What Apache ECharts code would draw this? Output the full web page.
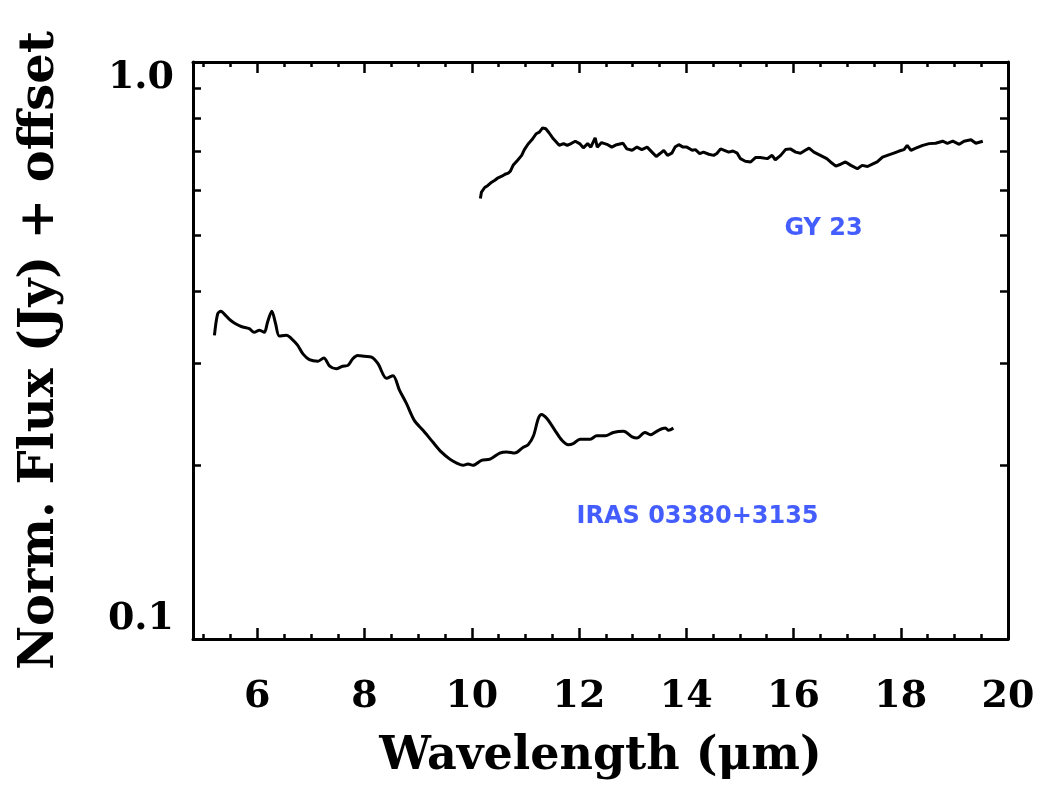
<!DOCTYPE html>
<html><head><meta charset="utf-8">
<script src="https://cdn.jsdelivr.net/npm/echarts@6/dist/echarts.min.js"></script>
<style>html,body{margin:0;padding:0;background:#fff}#chart{width:1045px;height:786px}</style>
</head><body><div id="chart"></div>
<script>
// ---- data (wavelength in micron, normalized flux + offset in Jy) ----
const irasSpectrum = [
 [5.20,0.336],[5.26,0.366],[5.32,0.370],[5.38,0.366],[5.48,0.358],[5.57,0.353],[5.70,0.348],[5.85,0.345],[5.94,0.340],[6.04,0.343],
 [6.13,0.340],[6.19,0.354],[6.27,0.370],[6.34,0.352],[6.41,0.335],[6.54,0.336],[6.63,0.332],[6.75,0.323],[6.85,0.312],[6.97,0.305],
 [7.13,0.303],[7.24,0.307],[7.35,0.297],[7.47,0.294],[7.59,0.297],[7.69,0.298],[7.78,0.306],[7.87,0.310],[8.00,0.309],[8.13,0.308],
 [8.25,0.300],[8.41,0.283],[8.53,0.286],[8.65,0.270],[8.78,0.256],[8.93,0.239],[9.09,0.230],[9.28,0.219],[9.43,0.211],[9.59,0.205],
 [9.71,0.202],[9.84,0.200],[9.93,0.201],[10.02,0.200],[10.18,0.204],[10.34,0.205],[10.52,0.210],[10.65,0.211],[10.80,0.210],[10.96,0.215],
 [11.05,0.217],[11.15,0.225],[11.24,0.241],[11.30,0.245],[11.40,0.241],[11.55,0.230],[11.68,0.221],[11.80,0.217],[11.89,0.218],[12.02,0.222],
 [12.14,0.222],[12.21,0.222],[12.33,0.225],[12.49,0.225],[12.64,0.228],[12.83,0.229],[12.99,0.224],[13.08,0.223],[13.23,0.228],[13.33,0.226],
 [13.48,0.230],[13.61,0.232],[13.67,0.230],[13.76,0.232]
];
const gySpectrum = [
 [10.16,0.580],[10.18,0.595],[10.24,0.606],[10.30,0.611],[10.37,0.619],[10.43,0.624],[10.49,0.630],[10.56,0.634],[10.62,0.639],[10.68,0.642],
 [10.72,0.647],[10.77,0.662],[10.85,0.675],[10.93,0.689],[10.98,0.705],[11.05,0.721],[11.12,0.733],[11.20,0.751],[11.26,0.756],[11.32,0.769],
 [11.38,0.766],[11.44,0.754],[11.52,0.736],[11.58,0.726],[11.63,0.717],[11.71,0.722],[11.78,0.717],[11.86,0.723],[11.93,0.729],[12.01,0.722],
 [12.08,0.710],[12.16,0.722],[12.22,0.712],[12.30,0.739],[12.34,0.712],[12.42,0.725],[12.52,0.720],[12.61,0.712],[12.70,0.719],[12.82,0.723],
 [12.89,0.707],[12.99,0.703],[13.08,0.712],[13.17,0.705],[13.27,0.712],[13.36,0.698],[13.44,0.686],[13.51,0.694],[13.58,0.703],[13.65,0.689],
 [13.73,0.695],[13.79,0.712],[13.86,0.719],[13.94,0.712],[14.01,0.712],[14.11,0.703],[14.17,0.705],[14.25,0.694],[14.32,0.698],[14.42,0.692],
 [14.51,0.689],[14.57,0.694],[14.64,0.707],[14.71,0.703],[14.79,0.698],[14.87,0.701],[14.95,0.695],[15.01,0.680],[15.10,0.673],[15.20,0.671],
 [15.29,0.683],[15.38,0.683],[15.51,0.680],[15.60,0.689],[15.66,0.677],[15.76,0.689],[15.85,0.705],[15.94,0.707],[16.04,0.698],[16.13,0.695],
 [16.22,0.703],[16.29,0.709],[16.38,0.698],[16.50,0.689],[16.62,0.680],[16.69,0.671],[16.79,0.660],[16.88,0.665],[16.97,0.671],[17.07,0.662],
 [17.19,0.653],[17.28,0.662],[17.38,0.659],[17.47,0.665],[17.56,0.671],[17.66,0.684],[17.75,0.689],[17.87,0.695],[17.97,0.701],[18.06,0.705],
 [18.12,0.717],[18.19,0.703],[18.28,0.709],[18.41,0.717],[18.53,0.722],[18.65,0.723],[18.78,0.729],[18.87,0.723],[18.97,0.729],[19.09,0.720],
 [19.18,0.729],[19.31,0.733],[19.40,0.723],[19.53,0.729]
];
const xMajorTicks = [6, 8, 10, 12, 14, 16, 18, 20];
const xMinorTicks = [5, 5.5, 6.5, 7, 7.5, 8.5, 9, 9.5, 10.5, 11, 11.5, 12.5, 13, 13.5, 14.5, 15, 15.5, 16.5, 17, 17.5, 18.5, 19, 19.5];
const yLabelValues = [0.1, 1.0];
const yMinorTicks = [0.2, 0.3, 0.4, 0.5, 0.6, 0.7, 0.8, 0.9];
const sourceNames = ['GY 23', 'IRAS 03380+3135'];
const sourceLabelWave = [16.56, 14.21];
const sourceLabelFlux = [0.515, 0.163];

const X_MIN = 4.8, X_MAX = 20, Y_MIN = 0.1, Y_MAX = 1.0;
const SERIF = "'DejaVu Serif', 'Liberation Serif', serif";
const BLACK = '#000';

function xAxisDef(position, ticks, tickLen, showLine, showLabels) {
  return {
    type: 'value', position: position, min: X_MIN, max: X_MAX,
    axisLine: { show: showLine, onZero: false, lineStyle: { color: BLACK, width: 3 } },
    axisTick: { show: true, inside: true, length: tickLen, customValues: ticks, lineStyle: { color: BLACK, width: 2.5 } },
    axisLabel: { show: showLabels, customValues: ticks, margin: 39, fontFamily: SERIF, fontSize: 38, fontWeight: 'bold', color: BLACK },
    splitLine: { show: false }
  };
}
function yAxisDef(position, showLine, showLabels) {
  return {
    type: 'log', logBase: 10, position: position, min: Y_MIN, max: Y_MAX,
    axisLine: { show: showLine, onZero: false, lineStyle: { color: BLACK, width: 3 } },
    axisTick: { show: true, inside: true, length: 8, customValues: yMinorTicks, lineStyle: { color: BLACK, width: 2.5 } },
    axisLabel: {
      show: showLabels, customValues: yLabelValues, margin: 19,
      fontFamily: SERIF, fontSize: 38, fontWeight: 'bold', color: BLACK,
      formatter: function (v) {
        const val = v <= 0 ? Math.pow(10, v) : v;
        const s = val.toFixed(1);
        return val > 0.5 ? '{hi|' + s + '}' : '{lo|' + s + '}';
      },
      rich: {
        hi: { fontFamily: SERIF, fontSize: 38, fontWeight: 'bold', color: BLACK, padding: [32, 0, 0, 0] },
        lo: { fontFamily: SERIF, fontSize: 38, fontWeight: 'bold', color: BLACK, padding: [0, 0, 40, 0] }
      }
    },
    splitLine: { show: false }
  };
}

const xMain = xAxisDef('bottom', xMajorTicks, 11, true, true);
xMain.name = 'Wavelength (μm)';
xMain.nameLocation = 'middle';
xMain.nameGap = 95;
xMain.nameTextStyle = { fontFamily: SERIF, fontSize: 46, fontWeight: 'bold', color: BLACK };

const yMain = yAxisDef('left', true, true);
yMain.name = 'Norm. Flux (Jy) + offset';
yMain.nameLocation = 'middle';
yMain.nameGap = 128;
yMain.nameRotate = 90;
yMain.nameTextStyle = { fontFamily: SERIF, fontSize: 48, fontWeight: 'bold', color: BLACK };

const labelData = sourceNames.map((n, i) => [sourceLabelWave[i], sourceLabelFlux[i], n]);

const option = {
  animation: false,
  backgroundColor: '#fff',
  grid: { left: 193, right: 37, top: 62, bottom: 147, outerBoundsMode: 'none', containLabel: false },
  xAxis: [
    xMain,
    xAxisDef('bottom', xMinorTicks, 5, false, false),
    xAxisDef('top', xMajorTicks, 11, true, false),
    xAxisDef('top', xMinorTicks, 5, false, false)
  ],
  yAxis: [
    yMain,
    yAxisDef('right', true, false)
  ],
  series: [
    {
      type: 'line', name: 'IRAS 03380+3135', data: irasSpectrum, xAxisIndex: 0, yAxisIndex: 0,
      showSymbol: false, smooth: 0.3, lineStyle: { color: BLACK, width: 3 }, silent: true
    },
    {
      type: 'line', name: 'GY 23', data: gySpectrum, xAxisIndex: 0, yAxisIndex: 0,
      showSymbol: false, smooth: false, lineStyle: { color: BLACK, width: 3 }, silent: true
    },
    {
      type: 'scatter', name: 'labels', data: labelData, xAxisIndex: 0, yAxisIndex: 0,
      symbolSize: 0, silent: true,
      label: {
        show: true, position: 'inside',
        formatter: function (p) { return p.value[2]; },
        fontFamily: "'DejaVu Sans', 'Liberation Sans', sans-serif", fontWeight: 'bold', fontSize: 24, color: '#1535ff'
      }
    }
  ]
};
const chart = echarts.init(document.getElementById('chart'), null, { renderer: 'canvas' });
chart.setOption(option);
</script>
</body></html>
